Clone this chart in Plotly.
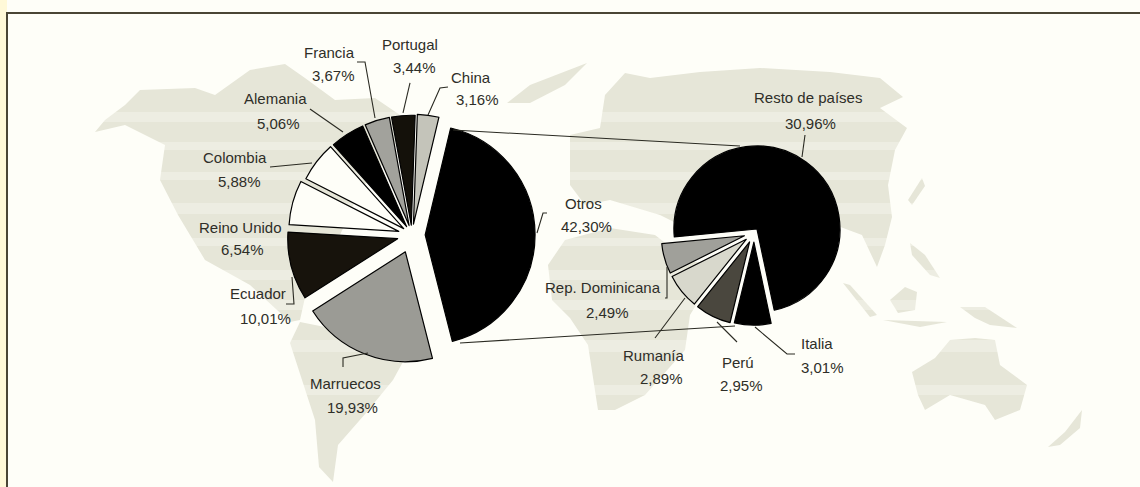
import plotly.graph_objects as go

W, H = 1140, 487

# ---- data ----
left_names = ["Otros", "Marruecos", "Ecuador", "Reino Unido", "Colombia",
              "Alemania", "Francia", "Portugal", "China"]
left_values = [42.30, 19.93, 10.01, 6.54, 5.88, 5.06, 3.67, 3.44, 3.16]
left_colors = ["#000000", "#9b9b95", "#17130c", "#fefef8", "#fefef8",
               "#000000", "#a2a29c", "#14110a", "#c4c4ba"]
left_pull = [0.12, 0.165, 0.135, 0.125, 0.095, 0.09, 0.09, 0.09, 0.10]

right_names = ["Resto de países", "Italia", "Perú", "Rumanía", "Rep. Dominicana"]
right_values = [30.96, 3.01, 2.95, 2.89, 2.49]
right_colors = ["#000000", "#000000", "#4a473e", "#d8d8cc", "#a0a09a"]
right_pull = [0.06, 0.11, 0.12, 0.12, 0.12]

# ---- label layout (pixel centres: name x, name y, value x, value y) ----
label_pos = {
    "Francia": (329, 52, 333, 75), "Portugal": (410, 44, 414, 68),
    "China": (471, 77, 477, 100), "Alemania": (275, 99, 278, 123),
    "Colombia": (235, 157, 239, 181), "Reino Unido": (240, 227, 242, 250),
    "Ecuador": (258, 293, 265, 318), "Marruecos": (345, 383, 352, 407),
    "Otros": (583, 203, 586, 226), "Rep. Dominicana": (603, 287, 607, 312),
    "Rumanía": (654, 355, 661, 378), "Perú": (738, 362, 741, 385),
    "Italia": (817, 343, 822, 367), "Resto de países": (808, 98, 810, 123),
}
leaders = [
    [(357, 62), (365, 62), (375, 118)], [(410, 83), (403, 113)],
    [(448, 87), (440, 88), (428, 115)], [(310, 109), (343, 132)],
    [(270, 167), (312, 163)], [(286, 304), (294, 304), (292, 277)],
    [(343, 367), (343, 358), (368, 353)], [(547, 213), (543, 213), (537, 233)],
    [(665, 298), (667, 298), (667, 267)], [(655, 338), (685, 298)],
    [(737, 342), (717, 322)], [(795, 354), (787, 354), (755, 327)],
    [(805, 135), (802, 157)],
    [(453, 130), (740, 146)], [(460, 343), (735, 326)],
]
# background world map outlines (decorative)
land = [
    [(95, 132), (105, 120), (125, 105), (140, 90), (195, 88), (215, 95), (250, 70), (285, 64), (305, 78),
     (335, 100), (375, 98), (400, 115), (395, 150), (360, 190), (340, 235), (310, 275), (300, 320), (290, 322),
     (250, 285), (205, 260), (178, 215), (160, 180), (165, 145), (125, 125)],
    [(290, 343), (300, 322), (340, 330), (404, 360), (393, 380), (366, 413), (338, 445), (333, 482),
     (319, 467), (315, 420)],
    [(507, 103), (530, 85), (587, 63), (565, 85), (530, 103)],
    [(570, 135), (600, 128), (605, 95), (625, 73), (650, 78), (700, 72), (760, 68), (830, 72), (880, 78), (903, 97),
     (880, 108), (907, 128), (895, 150), (888, 185), (892, 217), (885, 245), (877, 267), (862, 235), (835, 225),
     (810, 262), (780, 225), (730, 215), (700, 235), (660, 215), (610, 200), (585, 205), (570, 185)],
    [(548, 265), (565, 240), (610, 228), (655, 235), (690, 262), (722, 262), (690, 315), (685, 350), (645, 395),
     (615, 410), (598, 410), (588, 345), (570, 318), (552, 300)],
    [(912, 372), (935, 358), (950, 340), (975, 338), (995, 340), (1000, 365), (1027, 385), (1020, 410),
     (995, 420), (985, 405), (950, 395), (925, 410), (918, 395)],
    [(890, 300), (905, 287), (917, 292), (915, 310), (898, 313)],
    [(960, 307), (985, 307), (1017, 328), (990, 325), (975, 318)],
    [(843, 283), (850, 285), (877, 315), (870, 317)],
    [(883, 320), (947, 322), (920, 327)],
    [(910, 243), (925, 255), (940, 278), (930, 275), (912, 255)],
    [(908, 200), (922, 178), (925, 186), (912, 205)],
    [(1048, 447), (1065, 432), (1082, 410), (1080, 428), (1060, 445)],
]
bands = [(112, 122), (142, 150), (172, 180), (203, 214), (238, 246), (270, 280), (300, 310), (340, 352), (385, 395)]


def px(x):
    return x / W


def py(y):
    return 1 - y / H


def line_path(points, close=False):
    s = "M" + " L".join(f"{px(x):.5f},{py(y):.5f}" for x, y in points)
    return s + (" Z" if close else "")


shapes = [
    dict(type="rect", xref="paper", yref="paper", x0=0, x1=px(7), y0=0, y1=1, layer="below",
         line_width=0, fillcolor="#fff9d8"),
]
for poly in land:
    shapes.append(dict(type="path", xref="paper", yref="paper", path=line_path(poly, True), layer="below",
                       fillcolor="#e6e6d8", line=dict(width=0)))
for y0, y1 in bands:
    shapes.append(dict(type="rect", xref="paper", yref="paper", x0=px(80), x1=px(1060), y0=py(y1), y1=py(y0),
                       layer="below", fillcolor="#fefef8", opacity=0.3, line_width=0))
shapes.append(dict(type="path", xref="paper", yref="paper", layer="below",
                   path=line_path([(7, H), (7, 13), (W, 13)]), line=dict(color="#4a4535", width=2)))
for pts in leaders:
    shapes.append(dict(type="path", xref="paper", yref="paper", path=line_path(pts), layer="above",
                       line=dict(color="#2a2a22", width=1.1)))

annotations = []
values_by_name = dict(zip(left_names + right_names, left_values + right_values))
for name, (nx, ny, vx, vy) in label_pos.items():
    pct = f"{values_by_name[name]:.2f}%".replace(".", ",")
    for text, x, y in ((name, nx, ny), (pct, vx, vy)):
        annotations.append(dict(text=text, x=px(x), y=py(y), xref="paper", yref="paper", showarrow=False,
                                xanchor="center", yanchor="middle",
                                font=dict(family="Liberation Sans", size=15, color="#2e2e28")))


def dom(cx, cy, half):
    return dict(x=[px(cx - half), px(cx + half)], y=[py(cy + half), py(cy - half)])


fig = go.Figure()
fig.add_trace(go.Pie(labels=left_names, values=left_values, sort=False, direction="clockwise", rotation=13.4,
                     pull=left_pull, marker=dict(colors=left_colors, line=dict(color="#000000", width=1.2)),
                     textinfo="none", hoverinfo="skip", showlegend=False, domain=dom(412, 235, 128)))
fig.add_trace(go.Pie(labels=right_names, values=right_values, sort=False, direction="clockwise", rotation=264.5,
                     pull=right_pull, marker=dict(colors=right_colors, line=dict(color="#000000", width=1.2)),
                     textinfo="none", hoverinfo="skip", showlegend=False, domain=dom(754, 233, 93)))
fig.update_layout(width=W, height=H, margin=dict(l=0, r=0, t=0, b=0), paper_bgcolor="#fefef8",
                  showlegend=False, shapes=shapes, annotations=annotations)
fig.write_html("out.html", config={"displayModeBar": False},
               post_script="document.body.style.margin='0';document.body.style.overflow='hidden';")
